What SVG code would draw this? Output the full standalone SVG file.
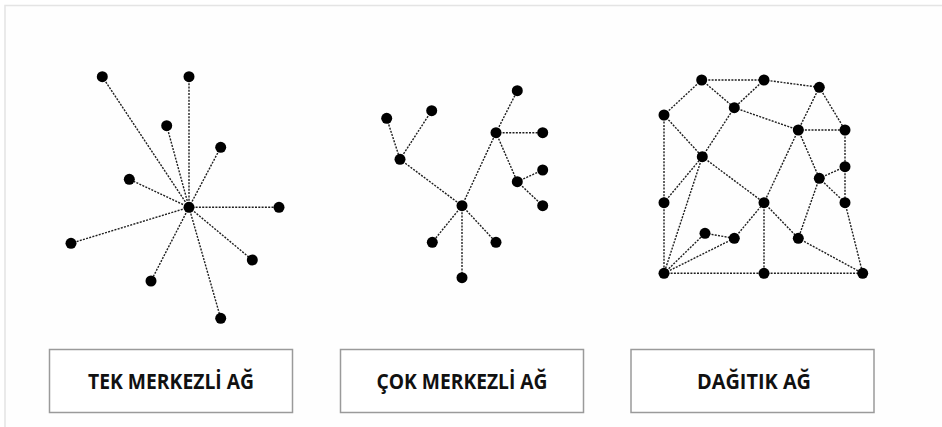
<svg xmlns="http://www.w3.org/2000/svg" width="942" height="427" viewBox="0 0 942 427">
  <style>
    .frame { fill: #fefefe; stroke: #e4e4e4; stroke-width: 1.5; }
    .edges line { stroke: #1e1e1e; stroke-width: 1.4; stroke-dasharray: 2 1.3; }
    .node { fill: #000; }
    .box { fill: #fff; stroke: #9a9a9a; stroke-width: 1.5; }
    .label { font-family: "Open Sans", "Liberation Sans", sans-serif; font-weight: bold; font-size: 21px; fill: #111; text-anchor: middle; }
  </style>
  <defs>
    <circle id="dot" r="5.5"/>
  </defs>

  <rect x="0" y="0" width="942" height="427" fill="#fff"/>
  <rect class="frame" x="5" y="5.5" width="945" height="430"/>

  <!-- centralized (star) network -->
  <g id="edges-star" class="edges">
    <line x1="189" y1="207.3" x2="102.3" y2="76.7"/>
    <line x1="189" y1="207.3" x2="189" y2="76.7"/>
    <line x1="189" y1="207.3" x2="166.7" y2="125.7"/>
    <line x1="189" y1="207.3" x2="220.7" y2="147.3"/>
    <line x1="189" y1="207.3" x2="129.3" y2="179.3"/>
    <line x1="189" y1="207.3" x2="279" y2="207.3"/>
    <line x1="189" y1="207.3" x2="71" y2="243.3"/>
    <line x1="189" y1="207.3" x2="252.3" y2="260"/>
    <line x1="189" y1="207.3" x2="151" y2="281"/>
    <line x1="189" y1="207.3" x2="220.7" y2="318.3"/>
  </g>
  <g id="star-nodes" class="node">
    <g id="s-hub"><use href="#dot" x="189" y="207.3"/></g>
    <g id="s1"><use href="#dot" x="102.3" y="76.7"/></g>
    <g id="s2"><use href="#dot" x="189" y="76.7"/></g>
    <g id="s3"><use href="#dot" x="166.7" y="125.7"/></g>
    <g id="s4"><use href="#dot" x="220.7" y="147.3"/></g>
    <g id="s5"><use href="#dot" x="129.3" y="179.3"/></g>
    <g id="s6"><use href="#dot" x="279" y="207.3"/></g>
    <g id="s7"><use href="#dot" x="71" y="243.3"/></g>
    <g id="s8"><use href="#dot" x="252.3" y="260"/></g>
    <g id="s9"><use href="#dot" x="151" y="281"/></g>
    <g id="s10"><use href="#dot" x="220.7" y="318.3"/></g>
  </g>

  <!-- decentralized network -->
  <g id="edges-multi" class="edges">
    <line x1="386.7" y1="118.3" x2="400" y2="159.3"/>
    <line x1="431.7" y1="110.7" x2="400" y2="159.3"/>
    <line x1="400" y1="159.3" x2="462" y2="205.7"/>
    <line x1="462" y1="205.7" x2="496" y2="132.7"/>
    <line x1="496" y1="132.7" x2="517.3" y2="90.7"/>
    <line x1="496" y1="132.7" x2="542.7" y2="132.7"/>
    <line x1="496" y1="132.7" x2="517.3" y2="181.7"/>
    <line x1="517.3" y1="181.7" x2="542.7" y2="170"/>
    <line x1="517.3" y1="181.7" x2="542.7" y2="205.7"/>
    <line x1="462" y1="205.7" x2="432.3" y2="242.3"/>
    <line x1="462" y1="205.7" x2="496" y2="242.3"/>
    <line x1="462" y1="205.7" x2="462" y2="277.7"/>
  </g>
  <g id="multi-nodes" class="node">
    <g id="m1"><use href="#dot" x="517.3" y="90.7"/></g>
    <g id="m2"><use href="#dot" x="386.7" y="118.3"/></g>
    <g id="m3"><use href="#dot" x="431.7" y="110.7"/></g>
    <g id="m4"><use href="#dot" x="496" y="132.7"/></g>
    <g id="m5"><use href="#dot" x="542.7" y="132.7"/></g>
    <g id="m6"><use href="#dot" x="400" y="159.3"/></g>
    <g id="m7"><use href="#dot" x="542.7" y="170"/></g>
    <g id="m8"><use href="#dot" x="517.3" y="181.7"/></g>
    <g id="m9"><use href="#dot" x="542.7" y="205.7"/></g>
    <g id="m10"><use href="#dot" x="462" y="205.7"/></g>
    <g id="m11"><use href="#dot" x="432.3" y="242.3"/></g>
    <g id="m12"><use href="#dot" x="496" y="242.3"/></g>
    <g id="m13"><use href="#dot" x="462" y="277.7"/></g>
  </g>

  <!-- distributed (mesh) network -->
  <g id="edges-mesh" class="edges">
    <line x1="701.7" y1="80" x2="764" y2="80"/>
    <line x1="701.7" y1="80" x2="664" y2="115"/>
    <line x1="701.7" y1="80" x2="734.3" y2="107.7"/>
    <line x1="764" y1="80" x2="734.3" y2="107.7"/>
    <line x1="764" y1="80" x2="819.3" y2="87.3"/>
    <line x1="819.3" y1="87.3" x2="798.3" y2="130"/>
    <line x1="819.3" y1="87.3" x2="845" y2="130"/>
    <line x1="734.3" y1="107.7" x2="798.3" y2="130"/>
    <line x1="798.3" y1="130" x2="845" y2="130"/>
    <line x1="845" y1="130" x2="845" y2="166.7"/>
    <line x1="798.3" y1="130" x2="819.3" y2="178.3"/>
    <line x1="845" y1="166.7" x2="819.3" y2="178.3"/>
    <line x1="845" y1="166.7" x2="845" y2="202.7"/>
    <line x1="819.3" y1="178.3" x2="845" y2="202.7"/>
    <line x1="819.3" y1="178.3" x2="798.3" y2="238.3"/>
    <line x1="798.3" y1="130" x2="764" y2="202.7"/>
    <line x1="664" y1="115" x2="702.3" y2="156.7"/>
    <line x1="664" y1="115" x2="664" y2="202.7"/>
    <line x1="734.3" y1="107.7" x2="702.3" y2="156.7"/>
    <line x1="664" y1="202.7" x2="702.3" y2="156.7"/>
    <line x1="702.3" y1="156.7" x2="764" y2="202.7"/>
    <line x1="702.3" y1="156.7" x2="664" y2="273.3"/>
    <line x1="664" y1="202.7" x2="664" y2="273.3"/>
    <line x1="664" y1="273.3" x2="705" y2="233.3"/>
    <line x1="664" y1="273.3" x2="734.3" y2="238.3"/>
    <line x1="705" y1="233.3" x2="734.3" y2="238.3"/>
    <line x1="734.3" y1="238.3" x2="764" y2="202.7"/>
    <line x1="764" y1="202.7" x2="764" y2="273.3"/>
    <line x1="764" y1="202.7" x2="798.3" y2="238.3"/>
    <line x1="798.3" y1="238.3" x2="862.7" y2="273.3"/>
    <line x1="845" y1="202.7" x2="862.7" y2="273.3"/>
    <line x1="664" y1="273.3" x2="764" y2="273.3"/>
    <line x1="764" y1="273.3" x2="862.7" y2="273.3"/>
  </g>
  <g id="mesh-nodes" class="node">
    <g id="d1"><use href="#dot" x="701.7" y="80"/></g>
    <g id="d2"><use href="#dot" x="764" y="80"/></g>
    <g id="d3"><use href="#dot" x="819.3" y="87.3"/></g>
    <g id="d4"><use href="#dot" x="664" y="115"/></g>
    <g id="d5"><use href="#dot" x="734.3" y="107.7"/></g>
    <g id="d6"><use href="#dot" x="798.3" y="130"/></g>
    <g id="d7"><use href="#dot" x="845" y="130"/></g>
    <g id="d8"><use href="#dot" x="702.3" y="156.7"/></g>
    <g id="d9"><use href="#dot" x="845" y="166.7"/></g>
    <g id="d10"><use href="#dot" x="819.3" y="178.3"/></g>
    <g id="d11"><use href="#dot" x="664" y="202.7"/></g>
    <g id="d12"><use href="#dot" x="764" y="202.7"/></g>
    <g id="d13"><use href="#dot" x="845" y="202.7"/></g>
    <g id="d14"><use href="#dot" x="705" y="233.3"/></g>
    <g id="d15"><use href="#dot" x="734.3" y="238.3"/></g>
    <g id="d16"><use href="#dot" x="798.3" y="238.3"/></g>
    <g id="d17"><use href="#dot" x="664" y="273.3"/></g>
    <g id="d18"><use href="#dot" x="764" y="273.3"/></g>
    <g id="d19"><use href="#dot" x="862.7" y="273.3"/></g>
  </g>

  <!-- captions -->
  <g id="label-tek">
    <rect class="box" x="49.5" y="349.5" width="243" height="63"/>
    <text class="label" x="171" y="389" textLength="166" lengthAdjust="spacingAndGlyphs">TEK MERKEZLİ AĞ</text>
  </g>
  <g id="label-cok">
    <rect class="box" x="340.5" y="349.5" width="243" height="63"/>
    <text class="label" x="462" y="389" textLength="171" lengthAdjust="spacingAndGlyphs">ÇOK MERKEZLİ AĞ</text>
  </g>
  <g id="label-dagitik">
    <rect class="box" x="631" y="349.5" width="243" height="63"/>
    <text class="label" x="754" y="389" textLength="114" lengthAdjust="spacingAndGlyphs">DAĞITIK AĞ</text>
  </g>
</svg>
